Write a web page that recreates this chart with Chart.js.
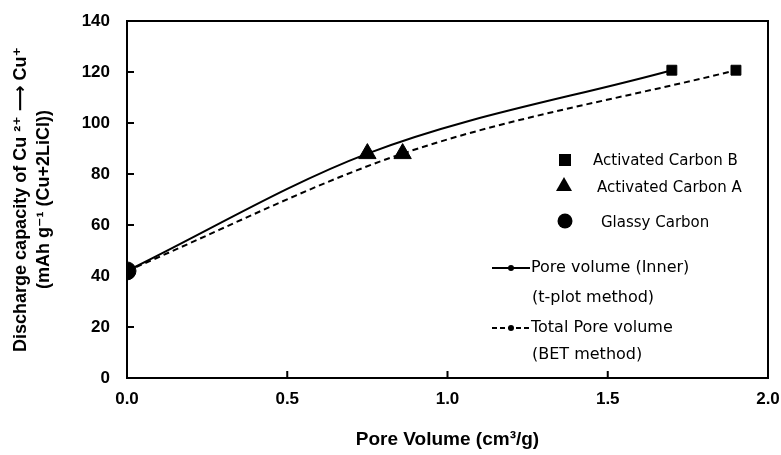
<!DOCTYPE html>
<html>
<head>
<meta charset="utf-8">
<script src="https://cdn.jsdelivr.net/npm/chart.js@4"></script>
<style>
  html, body { margin: 0; padding: 0; background: #fff; }
  #wrap { width: 781px; height: 455px; }
</style>
</head>
<body>
<div id="wrap"><canvas id="poreChart" width="781" height="455"></canvas></div>
<script>
// data
const innerX = [0, 0.75, 1.70];
const innerY = [42, 88, 120.7];
const totalX = [0, 0.86, 1.90];
const totalY = [42, 88, 120.7];
const carbonBX = [1.70, 1.90];
const carbonBY = [120.7, 120.7];
const carbonAX = [0.75, 0.86];
const carbonAY = [88, 88];
const glassyX = [0];
const glassyY = [42];
const xTicks = [0, 0.5, 1.0, 1.5, 2.0];
const yTicks = [0, 20, 40, 60, 80, 100, 120, 140];

function pts(xs, ys) { return xs.map((x, i) => ({ x: x, y: ys[i] })); }

// box frame + inward tick marks
const frame = {
  id: 'frame',
  afterDatasetsDraw(chart) {
    const { ctx, chartArea: a, scales } = chart;
    ctx.save();
    ctx.strokeStyle = '#000';
    ctx.lineWidth = 2;
    ctx.strokeRect(a.left, a.top, a.right - a.left, a.bottom - a.top);
    ctx.beginPath();
    yTicks.forEach(v => {
      const y = scales.y.getPixelForValue(v);
      ctx.moveTo(a.left, y); ctx.lineTo(a.left + 7, y);
    });
    xTicks.forEach(v => {
      const x = scales.x.getPixelForValue(v);
      ctx.moveTo(x, a.bottom); ctx.lineTo(x, a.bottom - 7);
    });
    ctx.stroke();
    ctx.restore();
  }
};

// legend drawn in the right part of the plot
const customLegend = {
  id: 'customLegend',
  afterDraw(chart) {
    const ctx = chart.ctx;
    ctx.save();
    ctx.fillStyle = '#000';
    ctx.strokeStyle = '#000';
    ctx.textBaseline = 'middle';
    ctx.font = '15px "DejaVu Sans", sans-serif';
    // markers
    ctx.fillRect(559, 154, 12, 12);
    ctx.beginPath();
    ctx.moveTo(564, 177); ctx.lineTo(572, 191); ctx.lineTo(556, 191); ctx.closePath(); ctx.fill();
    ctx.beginPath(); ctx.arc(565, 221, 7.5, 0, Math.PI * 2); ctx.fill();
    ctx.fillText('Activated Carbon B', 593, 161);
    ctx.fillText('Activated Carbon A', 597, 188);
    ctx.fillText('Glassy Carbon', 601, 223);
    // line entries
    ctx.font = '16px "DejaVu Sans", sans-serif';
    ctx.lineWidth = 2;
    ctx.beginPath(); ctx.moveTo(492, 268); ctx.lineTo(530, 268); ctx.stroke();
    ctx.beginPath(); ctx.arc(511, 268, 3, 0, Math.PI * 2); ctx.fill();
    ctx.fillText('Pore volume (Inner)', 531, 268);
    ctx.fillText('(t-plot method)', 532, 298);
    ctx.setLineDash([5, 3]);
    ctx.beginPath(); ctx.moveTo(492, 328); ctx.lineTo(530, 328); ctx.stroke();
    ctx.setLineDash([]);
    ctx.beginPath(); ctx.arc(511, 328, 3, 0, Math.PI * 2); ctx.fill();
    ctx.fillText('Total Pore volume', 531, 328);
    ctx.fillText('(BET method)', 532, 355);
    ctx.restore();
  }
};

new Chart(document.getElementById('poreChart').getContext('2d'), {
  type: 'scatter',
  data: {
    datasets: [
      {
        type: 'line', label: 'Pore volume (Inner)', data: pts(innerX, innerY),
        borderColor: '#000', borderWidth: 2, pointRadius: 0, tension: 0.4,
        cubicInterpolationMode: 'monotone', fill: false, order: 3
      },
      {
        type: 'line', label: 'Total Pore volume', data: pts(totalX, totalY),
        borderColor: '#000', borderWidth: 2, borderDash: [6, 4], pointRadius: 0, tension: 0.4,
        cubicInterpolationMode: 'monotone', fill: false, order: 3
      },
      {
        label: 'Activated Carbon B', data: pts(carbonBX, carbonBY), pointStyle: 'rect',
        pointRadius: 7, backgroundColor: '#000', borderColor: '#000', order: 1
      },
      {
        label: 'Activated Carbon A', data: pts(carbonAX, carbonAY), pointStyle: 'triangle',
        pointRadius: 10, backgroundColor: '#000', borderColor: '#000', order: 1
      },
      {
        label: 'Glassy Carbon', data: pts(glassyX, glassyY), pointStyle: 'circle',
        pointRadius: 9, backgroundColor: '#000', borderColor: '#000', order: 1
      }
    ]
  },
  options: {
    responsive: false,
    animation: false,
    layout: { padding: { top: 21, right: 13, left: 0, bottom: 0 } },
    plugins: { legend: { display: false }, tooltip: { enabled: false } },
    scales: {
      x: {
        type: 'linear', min: 0, max: 2,
        afterBuildTicks(s) { s.ticks = xTicks.map(v => ({ value: v })); },
        afterFit(s) { s.height = 77; s.paddingLeft = 0; s.paddingRight = 0; },
        grid: { display: false, drawTicks: false },
        border: { display: false },
        ticks: {
          color: '#000', padding: 11,
          font: { family: '"Liberation Sans Narrow", "Liberation Sans", Arial', size: 17, weight: 'bold' },
          callback: v => v.toFixed(1)
        },
        title: {
          display: true, text: 'Pore Volume (cm³/g)', color: '#000', padding: { top: 14 },
          font: { family: '"Liberation Sans Narrow", "Liberation Sans", Arial', size: 19, weight: 'bold' }
        }
      },
      y: {
        min: 0, max: 140,
        afterBuildTicks(s) { s.ticks = yTicks.map(v => ({ value: v })); },
        afterFit(s) { s.width = 127; s.paddingTop = 0; s.paddingBottom = 0; },
        grid: { display: false, drawTicks: false },
        border: { display: false },
        ticks: {
          color: '#000', padding: 17,
          font: { family: '"Liberation Sans", Arial', size: 17, weight: 'bold' }
        },
        title: {
          display: true,
          text: ['Discharge capacity of Cu ²⁺ ⟶ Cu⁺', '(mAh g⁻¹ (Cu+2LiCl))'],
          color: '#000', padding: { top: 9, bottom: 0 },
          font: { family: '"Liberation Sans", "DejaVu Sans", Arial', size: 18, weight: 'bold', lineHeight: 1.3 }
        }
      }
    }
  },
  plugins: [frame, customLegend]
});
</script>
</body>
</html>
